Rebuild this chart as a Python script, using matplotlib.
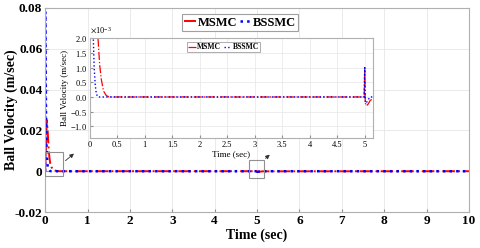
import matplotlib
matplotlib.use("Agg")
import matplotlib.pyplot as plt
from matplotlib.patches import Rectangle

# ---- data ----
t_msmc = [0, 0.02, 0.04, 0.06, 0.08, 0.10, 0.12, 0.15, 0.18, 0.21, 0.25, 0.30, 0.35,
          4.99, 5.0, 5.01, 5.03, 5.06, 5.10, 5.15, 10]
v_msmc = [0, 0.012, 0.025, 0.020, 0.012, 0.007, 0.0038, 0.0020, 0.0011, 0.0006, 0.0002, 0.00005, 0,
          0, 0.0010, -0.0002, -0.0003, -0.00025, -0.00012, -0.00005, 0]
t_bssmc = [0, 0.005, 0.01, 0.02, 0.03, 0.04, 0.05, 0.065, 0.08, 0.10, 0.12, 0.15,
           4.99, 5.0, 5.01, 5.03, 5.06, 5.10, 10]
v_bssmc = [0, 0.078, 0.060, 0.030, 0.015, 0.008, 0.004, 0.0020, 0.0010, 0.0004, 0.0001, 0,
           0, 0.0010, -0.0002, -0.0002, -0.0001, 0, 0]
labels = ["MSMC", "BSSMC"]
xticks = list(range(0, 11))
yticks = [-0.02, 0, 0.02, 0.04, 0.06, 0.08]
ytick_labels = ["-0.02", "0", "0.02", "0.04", "0.06", "0.08"]
inset_xticks = [0, 0.5, 1, 1.5, 2, 2.5, 3, 3.5, 4, 4.5, 5]
inset_xtick_labels = ["0", "0.5", "1", "1.5", "2", "2.5", "3", "3.5", "4", "4.5", "5"]
inset_yticks = [-1e-3, -0.5e-3, 0, 0.5e-3, 1e-3, 1.5e-3, 2e-3]

serif = ["Liberation Serif", "DejaVu Serif"]
plt.rcParams['font.family'] = serif
plt.rcParams['mathtext.fontset'] = 'stix'

fig = plt.figure(figsize=(4.8, 2.48), dpi=100)
ax = fig.add_axes([0.094, 0.145, 0.883, 0.823])

ax.plot(t_msmc, v_msmc, color='red', ls='-.', lw=1.4, label=labels[0])
ax.plot(t_bssmc, v_bssmc, color='blue', ls=':', lw=1.8, label=labels[1])
ax.set_xlim(0, 10)
ax.set_ylim(-0.02, 0.08)
ax.set_xticks(xticks)
ax.set_xticklabels([str(x) for x in xticks])
ax.set_yticks(yticks)
ax.set_yticklabels(ytick_labels)
ax.grid(True, color='#e6e6e6', lw=0.6)
ax.set_axisbelow(True)
for s in ax.spines.values():
    s.set_color('#b0b0b0')
    s.set_linewidth(0.8)
ax.tick_params(direction='in', length=2, color='#909090', labelsize=9.5, pad=2)
for lab in ax.get_xticklabels() + ax.get_yticklabels():
    lab.set_fontweight('bold')
ax.set_xlabel("Time (sec)", fontsize=10, fontweight='bold', labelpad=1)
ax.set_ylabel("Ball Velocity (m/sec)", fontsize=10, fontweight='bold')
ax.yaxis.set_label_coords(-0.064, 0.5)
leg = ax.legend(loc='upper center', bbox_to_anchor=(0.46, 1.0), ncol=2,
                prop={'weight': 'bold', 'family': serif, 'size': 9},
                handlelength=0.9, handletextpad=0.15, columnspacing=0.2,
                borderpad=0.2, fancybox=False, edgecolor='#a0a0a0', framealpha=1)
leg.get_frame().set_linewidth(0.8)

# zoom boxes and arrows
ax.add_patch(Rectangle((0, -0.0024), 0.43, 0.0117, fill=False, ec='#909090', lw=0.8, zorder=5))
ax.add_patch(Rectangle((4.8, -0.0034), 0.37, 0.0088, fill=False, ec='#909090', lw=0.8, zorder=5))
ax.annotate("", xy=(0.73, 0.0095), xytext=(0.43, 0.0043),
            arrowprops=dict(arrowstyle='-|>', color='#303030', lw=0.6, mutation_scale=6))
ax.annotate("", xy=(5.35, 0.0090), xytext=(5.15, 0.0054),
            arrowprops=dict(arrowstyle='-|>', color='#303030', lw=0.6, mutation_scale=6))

# inset
ia = fig.add_axes([0.187, 0.4435, 0.59, 0.402])
ia.plot(t_msmc, v_msmc, color='red', ls='-.', lw=0.9, label=labels[0])
ia.plot(t_bssmc, v_bssmc, color='blue', ls=':', lw=1.0, label=labels[1])
ia.set_xlim(0, 5.15)
ia.set_ylim(-1.4e-3, 2e-3)
ia.set_xticks(inset_xticks)
ia.set_xticklabels(inset_xtick_labels)
ia.set_yticks(inset_yticks)
ia.ticklabel_format(axis='y', style='sci', scilimits=(-3, -3), useMathText=True)
ia.yaxis.get_offset_text().set_fontsize(6)
ia.grid(True, color='#e6e6e6', lw=0.5)
ia.set_axisbelow(True)
for s in ia.spines.values():
    s.set_color('#b0b0b0')
    s.set_linewidth(0.8)
ia.tick_params(direction='in', length=2, color='#909090', labelsize=6, pad=2)
ia.set_xlabel("Time (sec)", fontsize=6.5, labelpad=1)
ia.set_ylabel("Ball Velocity (m/sec)", fontsize=6.5, labelpad=1)
ileg = ia.legend(loc='upper left', bbox_to_anchor=(0.33, 1.0), ncol=2,
                 prop={'weight': 'bold', 'family': serif, 'size': 5.5},
                 handlelength=1.0, handletextpad=0.2, columnspacing=0.3,
                 borderpad=0.15, fancybox=False, edgecolor='#a0a0a0', framealpha=1)
ileg.get_frame().set_linewidth(0.6)

fig.savefig("out.png", dpi=100)
